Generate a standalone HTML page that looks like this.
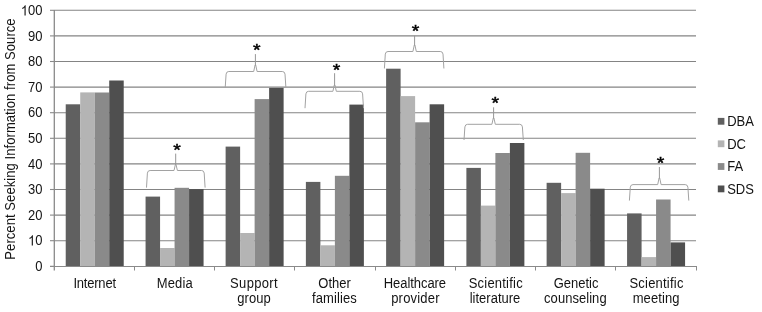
<!DOCTYPE html>
<html><head><meta charset="utf-8"><style>
html,body{margin:0;padding:0;background:#fff;width:762px;height:312px;overflow:hidden}
svg{display:block;will-change:transform}
.t{font-family:"Liberation Sans",sans-serif;font-size:13px;fill:#141414}
.s{font-family:"Liberation Sans",sans-serif;font-size:18.5px;fill:#000;stroke:#000;stroke-width:0.5px}
</style></head><body>
<svg width="762" height="312" viewBox="0 0 762 312">
<line x1="54.0" y1="10.30" x2="696" y2="10.30" stroke="#848484" stroke-width="1.1"/>
<line x1="54.0" y1="35.90" x2="696" y2="35.90" stroke="#848484" stroke-width="1.1"/>
<line x1="54.0" y1="61.50" x2="696" y2="61.50" stroke="#848484" stroke-width="1.1"/>
<line x1="54.0" y1="87.10" x2="696" y2="87.10" stroke="#848484" stroke-width="1.1"/>
<line x1="54.0" y1="112.70" x2="696" y2="112.70" stroke="#848484" stroke-width="1.1"/>
<line x1="54.0" y1="138.30" x2="696" y2="138.30" stroke="#848484" stroke-width="1.1"/>
<line x1="54.0" y1="163.90" x2="696" y2="163.90" stroke="#848484" stroke-width="1.1"/>
<line x1="54.0" y1="189.50" x2="696" y2="189.50" stroke="#848484" stroke-width="1.1"/>
<line x1="54.0" y1="215.10" x2="696" y2="215.10" stroke="#848484" stroke-width="1.1"/>
<line x1="54.0" y1="240.70" x2="696" y2="240.70" stroke="#848484" stroke-width="1.1"/>
<rect x="65.72" y="104.30" width="14.50" height="162.20" fill="#606060"/>
<rect x="80.22" y="92.40" width="14.50" height="174.10" fill="#b4b4b4"/>
<rect x="94.72" y="92.50" width="14.50" height="174.00" fill="#8a8a8a"/>
<rect x="109.22" y="80.50" width="14.50" height="186.00" fill="#4f4f4f"/>
<rect x="145.57" y="196.60" width="14.50" height="69.90" fill="#606060"/>
<rect x="160.07" y="248.00" width="14.50" height="18.50" fill="#b4b4b4"/>
<rect x="174.57" y="187.80" width="14.50" height="78.70" fill="#8a8a8a"/>
<rect x="189.07" y="189.10" width="14.50" height="77.40" fill="#4f4f4f"/>
<rect x="225.62" y="146.60" width="14.50" height="119.90" fill="#606060"/>
<rect x="240.12" y="233.00" width="14.50" height="33.50" fill="#b4b4b4"/>
<rect x="254.62" y="99.10" width="14.50" height="167.40" fill="#8a8a8a"/>
<rect x="269.12" y="87.90" width="14.50" height="178.60" fill="#4f4f4f"/>
<rect x="305.88" y="181.90" width="14.50" height="84.60" fill="#606060"/>
<rect x="320.38" y="245.30" width="14.50" height="21.20" fill="#b4b4b4"/>
<rect x="334.88" y="175.80" width="14.50" height="90.70" fill="#8a8a8a"/>
<rect x="349.38" y="104.60" width="14.50" height="161.90" fill="#4f4f4f"/>
<rect x="386.12" y="68.70" width="14.50" height="197.80" fill="#606060"/>
<rect x="400.62" y="96.10" width="14.50" height="170.40" fill="#b4b4b4"/>
<rect x="415.12" y="122.30" width="14.50" height="144.20" fill="#8a8a8a"/>
<rect x="429.62" y="104.30" width="14.50" height="162.20" fill="#4f4f4f"/>
<rect x="466.38" y="167.90" width="14.50" height="98.60" fill="#606060"/>
<rect x="480.88" y="205.60" width="14.50" height="60.90" fill="#b4b4b4"/>
<rect x="495.38" y="153.00" width="14.50" height="113.50" fill="#8a8a8a"/>
<rect x="509.88" y="143.00" width="14.50" height="123.50" fill="#4f4f4f"/>
<rect x="546.62" y="182.80" width="14.50" height="83.70" fill="#606060"/>
<rect x="561.12" y="193.10" width="14.50" height="73.40" fill="#b4b4b4"/>
<rect x="575.62" y="152.80" width="14.50" height="113.70" fill="#8a8a8a"/>
<rect x="590.12" y="188.70" width="14.50" height="77.80" fill="#4f4f4f"/>
<rect x="627.08" y="213.40" width="14.50" height="53.10" fill="#606060"/>
<rect x="641.58" y="257.10" width="14.50" height="9.40" fill="#b4b4b4"/>
<rect x="656.08" y="199.50" width="14.50" height="67.00" fill="#8a8a8a"/>
<rect x="670.58" y="242.40" width="14.50" height="24.10" fill="#4f4f4f"/>
<line x1="50.0" y1="266.5" x2="697" y2="266.5" stroke="#8a8a8a"/>
<line x1="54.3" y1="10" x2="54.3" y2="270.5" stroke="#8a8a8a" stroke-width="1.3"/>
<line x1="50.0" y1="10.30" x2="54.0" y2="10.30" stroke="#8a8a8a" stroke-width="1.1"/>
<line x1="50.0" y1="35.90" x2="54.0" y2="35.90" stroke="#8a8a8a" stroke-width="1.1"/>
<line x1="50.0" y1="61.50" x2="54.0" y2="61.50" stroke="#8a8a8a" stroke-width="1.1"/>
<line x1="50.0" y1="87.10" x2="54.0" y2="87.10" stroke="#8a8a8a" stroke-width="1.1"/>
<line x1="50.0" y1="112.70" x2="54.0" y2="112.70" stroke="#8a8a8a" stroke-width="1.1"/>
<line x1="50.0" y1="138.30" x2="54.0" y2="138.30" stroke="#8a8a8a" stroke-width="1.1"/>
<line x1="50.0" y1="163.90" x2="54.0" y2="163.90" stroke="#8a8a8a" stroke-width="1.1"/>
<line x1="50.0" y1="189.50" x2="54.0" y2="189.50" stroke="#8a8a8a" stroke-width="1.1"/>
<line x1="50.0" y1="215.10" x2="54.0" y2="215.10" stroke="#8a8a8a" stroke-width="1.1"/>
<line x1="50.0" y1="240.70" x2="54.0" y2="240.70" stroke="#8a8a8a" stroke-width="1.1"/>
<line x1="50.0" y1="266.30" x2="54.0" y2="266.30" stroke="#8a8a8a" stroke-width="1.1"/>
<line x1="134.5" y1="267" x2="134.5" y2="270.5" stroke="#8a8a8a"/>
<line x1="214.5" y1="267" x2="214.5" y2="270.5" stroke="#8a8a8a"/>
<line x1="294.5" y1="267" x2="294.5" y2="270.5" stroke="#8a8a8a"/>
<line x1="375.5" y1="267" x2="375.5" y2="270.5" stroke="#8a8a8a"/>
<line x1="455.5" y1="267" x2="455.5" y2="270.5" stroke="#8a8a8a"/>
<line x1="535.5" y1="267" x2="535.5" y2="270.5" stroke="#8a8a8a"/>
<line x1="615.5" y1="267" x2="615.5" y2="270.5" stroke="#8a8a8a"/>
<line x1="696.5" y1="267" x2="696.5" y2="270.5" stroke="#8a8a8a"/>
<path transform="translate(20.81,15.40) scale(0.006348,-0.006855)" d="M763,0L583,0L583,1147Q518,1085 412.5,1023Q307,961 223,930L223,1104Q374,1175 487,1276Q600,1377 647,1466L763,1466Z" fill="#141414"/>
<text transform="translate(42.50,15.40) scale(1,1.08)" text-anchor="end" class="t">00</text>
<text transform="translate(42.50,41.40) scale(1,1.08)" text-anchor="end" class="t">90</text>
<text transform="translate(42.50,66.40) scale(1,1.08)" text-anchor="end" class="t">80</text>
<text transform="translate(42.50,92.40) scale(1,1.08)" text-anchor="end" class="t">70</text>
<text transform="translate(42.50,117.40) scale(1,1.08)" text-anchor="end" class="t">60</text>
<text transform="translate(42.50,143.40) scale(1,1.08)" text-anchor="end" class="t">50</text>
<text transform="translate(42.50,169.40) scale(1,1.08)" text-anchor="end" class="t">40</text>
<text transform="translate(42.50,194.40) scale(1,1.08)" text-anchor="end" class="t">30</text>
<text transform="translate(42.50,220.40) scale(1,1.08)" text-anchor="end" class="t">20</text>
<path transform="translate(28.04,245.40) scale(0.006348,-0.006855)" d="M763,0L583,0L583,1147Q518,1085 412.5,1023Q307,961 223,930L223,1104Q374,1175 487,1276Q600,1377 647,1466L763,1466Z" fill="#141414"/>
<text transform="translate(42.50,245.40) scale(1,1.08)" text-anchor="end" class="t">0</text>
<text transform="translate(42.50,271.40) scale(1,1.08)" text-anchor="end" class="t">0</text>
<text transform="translate(94.60,287.70) scale(1,1.08)" text-anchor="middle" letter-spacing="-0.2" class="t">Internet</text>
<text transform="translate(174.82,287.70) scale(1,1.08)" text-anchor="middle" letter-spacing="0.15" class="t">Media</text>
<text transform="translate(254.03,287.70) scale(1,1.08)" text-anchor="middle" letter-spacing="0.35" class="t">Support</text>
<text transform="translate(254.05,302.70) scale(1,1.08)" text-anchor="middle" letter-spacing="0.1" class="t">group</text>
<text transform="translate(334.55,287.70) scale(1,1.08)" text-anchor="middle" class="t">Other</text>
<text transform="translate(334.40,302.70) scale(1,1.08)" text-anchor="middle" letter-spacing="0.1" class="t">families</text>
<text transform="translate(414.88,287.70) scale(1,1.08)" text-anchor="middle" letter-spacing="-0.05" class="t">Healthcare</text>
<text transform="translate(415.45,302.70) scale(1,1.08)" text-anchor="middle" letter-spacing="0.2" class="t">provider</text>
<text transform="translate(495.76,287.70) scale(1,1.08)" text-anchor="middle" letter-spacing="0.22" class="t">Scientific</text>
<text transform="translate(495.00,302.70) scale(1,1.08)" text-anchor="middle" class="t">literature</text>
<text transform="translate(576.05,287.70) scale(1,1.08)" text-anchor="middle" class="t">Genetic</text>
<text transform="translate(575.38,302.70) scale(1,1.08)" text-anchor="middle" letter-spacing="0.05" class="t">counseling</text>
<text transform="translate(656.51,287.70) scale(1,1.08)" text-anchor="middle" letter-spacing="0.22" class="t">Scientific</text>
<text transform="translate(656.10,302.70) scale(1,1.08)" text-anchor="middle" letter-spacing="0.1" class="t">meeting</text>
<text transform="translate(15.0,139) rotate(-90) scale(1,1.08)" text-anchor="middle" letter-spacing="0.08" class="t">Percent Seeking Information from Source</text>
<rect x="717.8" y="117.9" width="6.6" height="6.8" fill="#606060"/>
<text transform="translate(727.20,126.00) scale(1,1.08)" class="t">DBA</text>
<rect x="717.8" y="140.4" width="6.6" height="6.8" fill="#b4b4b4"/>
<text transform="translate(727.20,148.80) scale(1,1.08)" class="t">DC</text>
<rect x="717.8" y="163.1" width="6.6" height="6.8" fill="#8a8a8a"/>
<text transform="translate(727.20,171.40) scale(1,1.08)" class="t">FA</text>
<rect x="717.8" y="185.5" width="6.6" height="6.8" fill="#4f4f4f"/>
<text transform="translate(727.20,193.50) scale(1,1.08)" class="t">SDS</text>
<path d="M146.5,187.6 L147.4,173.1 Q147.7,170.5 150.1,170.5 L174,170.5 L175.4,164.5 L176,164.5 L177.4,170.5 L201.5,170.5 Q203.9,170.5 204.2,173.1 L205.1,187.6" fill="none" stroke="#a2a2a2" stroke-width="1"/>
<line x1="175.7" y1="165.0" x2="175.7" y2="153.6" stroke="#969696" stroke-width="1"/>
<text transform="translate(177.10,155.60) scale(1.05,0.9)" text-anchor="middle" class="s">*</text>
<path d="M225.2,87.8 L226.1,74.1 Q226.4,71.5 228.8,71.5 L253.7,71.5 L255.1,65 L255.7,65 L257.1,71.5 L282.3,71.5 Q284.7,71.5 285,74.1 L285.9,87.8" fill="none" stroke="#a2a2a2" stroke-width="1"/>
<line x1="255.4" y1="65.5" x2="255.4" y2="54.1" stroke="#969696" stroke-width="1"/>
<text transform="translate(256.65,55.90) scale(1.05,0.9)" text-anchor="middle" class="s">*</text>
<path d="M305,108.2 L305.9,93.9 Q306.2,91.3 308.6,91.3 L332.9,91.3 L334.3,85 L334.9,85 L336.3,91.3 L359.9,91.3 Q362.3,91.3 362.6,93.9 L363.5,108.2" fill="none" stroke="#a2a2a2" stroke-width="1"/>
<line x1="334.6" y1="85.5" x2="334.6" y2="73.2" stroke="#969696" stroke-width="1"/>
<text transform="translate(336.40,75.80) scale(1.05,0.9)" text-anchor="middle" class="s">*</text>
<path d="M384.4,68.5 L385.3,54.1 Q385.6,51.5 388,51.5 L412.9,51.5 L414.3,45 L414.9,45 L416.3,51.5 L440.3,51.5 Q442.7,51.5 443,54.1 L443.9,68.5" fill="none" stroke="#a2a2a2" stroke-width="1"/>
<line x1="414.6" y1="45.5" x2="414.6" y2="35.6" stroke="#969696" stroke-width="1"/>
<text transform="translate(415.50,36.70) scale(1.05,0.9)" text-anchor="middle" class="s">*</text>
<path d="M464,140 L464.9,126.9 Q465.2,124.3 467.6,124.3 L491.9,124.3 L493.3,118 L493.9,118 L495.3,124.3 L519.7,124.3 Q522.1,124.3 522.4,126.9 L523.3,140" fill="none" stroke="#a2a2a2" stroke-width="1"/>
<line x1="493.6" y1="118.5" x2="493.6" y2="107.3" stroke="#969696" stroke-width="1"/>
<text transform="translate(495.20,108.50) scale(1.05,0.9)" text-anchor="middle" class="s">*</text>
<path d="M629.4,200.6 L630.3,187.2 Q630.6,184.6 633,184.6 L657.7,184.6 L659.1,178 L659.7,178 L661.1,184.6 L685.2,184.6 Q687.6,184.6 687.9,187.2 L688.8,200.6" fill="none" stroke="#a2a2a2" stroke-width="1"/>
<line x1="659.4" y1="178.5" x2="659.4" y2="167.0" stroke="#969696" stroke-width="1"/>
<text transform="translate(660.45,168.60) scale(1.05,0.9)" text-anchor="middle" class="s">*</text>
</svg>
</body></html>
